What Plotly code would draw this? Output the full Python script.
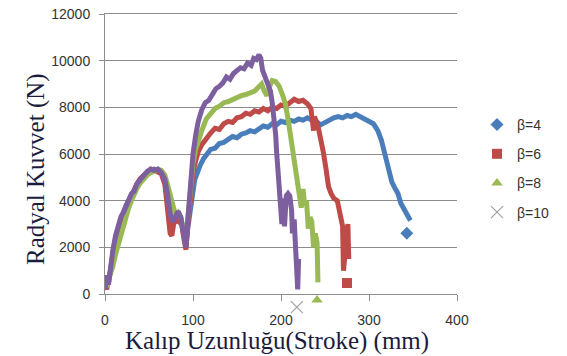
import plotly.graph_objects as go

# ---------------- data ----------------
series_names = ["β=4", "β=6", "β=8", "β=10"]

x_b4 = [0, 2, 4, 6, 9, 12, 15, 18, 21, 24, 27, 30, 33, 36, 40, 44, 48, 52, 56, 60, 64, 68, 71, 74, 77, 80, 83, 86, 89, 92,
        94, 96, 98, 100, 102, 105, 108, 112, 116, 120, 125, 130, 135, 140, 145, 150, 155, 160, 165, 170, 175, 180, 185,
        190, 195, 200, 205, 210, 215, 220, 225, 230, 235, 240, 245, 250, 255, 260, 265, 270, 275, 280, 285, 290, 295,
        300, 305, 310, 314, 318, 322, 326, 330, 333, 336, 340, 344, 347]
y_b4 = [300, 700, 500, 1100, 1700, 2300, 2700, 3200, 3500, 3800, 4000, 4300, 4500, 4650, 4900, 5050, 5200, 5300, 5350, 5300,
        5250, 5000, 4500, 3800, 3200, 3050, 3400, 3300, 2700, 2100,
        2800, 3500, 4000, 4400, 4900, 5250, 5500, 5800, 6000, 6200, 6250, 6450, 6500, 6600, 6750, 6700, 6850, 6900, 7000,
        6950, 7100, 7200, 7150, 7300, 7250, 7400, 7350, 7450, 7400, 7500, 7450, 7550, 7450, 7400, 7250, 7350, 7500, 7550,
        7600, 7550, 7650, 7600, 7700, 7600, 7550, 7450, 7300, 7000, 6600, 6000, 5300, 4800, 4500, 4300, 3900, 3600, 3300,
        3150]

x_b6 = [0, 2, 4, 6, 9, 12, 15, 18, 21, 24, 27, 30, 33, 36, 40, 44, 48, 52, 56, 60, 64, 68, 71, 74, 76, 78, 81, 84, 87, 90,
        92, 94, 96, 98, 100, 103, 106, 110, 115, 120, 125, 130, 135, 140, 145, 150, 155, 160, 165, 170, 175, 180, 185,
        190, 195, 200, 205, 210, 215, 220, 225, 230, 234, 237, 238, 242, 245, 248, 251, 254, 257, 260, 264, 267, 270,
        271, 273, 275, 276, 277]
y_b6 = [400, 200, 700, 900, 1500, 2100, 2500, 2900, 3300, 3700, 4000, 4200, 4500, 4700, 4950, 5100, 5250, 5350, 5300, 5250,
        5150, 4700, 3800, 2600, 2500, 3000, 3200, 3100, 3000, 2300,
        1900, 2900, 3900, 4600, 5200, 5700, 6100, 6400, 6700, 6900, 7100, 7050, 7300, 7400, 7350, 7550, 7600, 7750, 7700,
        7850, 7800, 7950, 7850, 8000, 7950, 8100, 8050, 8200, 8350, 8250, 8300, 8150, 7950, 7000, 7600, 7200, 6700, 6100,
        5400, 4600, 4300, 4100, 4000, 3500, 2900, 1000, 1800, 2500, 3000, 1500]

x_b8 = [0, 2, 4, 6, 9, 12, 15, 18, 21, 24, 27, 30, 33, 36, 40, 44, 48, 52, 56, 60, 64, 68, 71, 74, 77, 80, 83, 86, 89, 92,
        94, 96, 98, 100, 103, 106, 110, 115, 120, 125, 130, 135, 140, 145, 150, 155, 160, 165, 170, 174, 178, 181, 184,
        187, 190, 194, 198, 202, 205, 208, 211, 214, 217, 219, 221, 223, 225, 227, 229, 231, 233, 235, 237, 239, 241,
        242]
y_b8 = [500, 300, 600, 800, 1200, 1700, 2100, 2600, 3000, 3400, 3700, 4000, 4300, 4500, 4750, 4950, 5100, 5200, 5300, 5350,
        5300, 5100, 4700, 4200, 3700, 3400, 3500, 3300, 2800, 2300,
        3200, 4200, 5000, 5600, 6200, 6600, 7000, 7500, 7700, 7950, 8050, 8200, 8250, 8350, 8400, 8500, 8550, 8650, 8700,
        8850, 9000, 8700, 8500, 8900, 9150, 9100, 8900, 8500, 8150, 7500, 6800, 6100, 5300, 4900, 4200, 3700, 4500, 3800,
        4000, 2800, 3300, 3100, 2000, 2600, 2200, 500]

x_b10 = [0, 2, 4, 6, 9, 12, 15, 18, 21, 24, 27, 30, 33, 36, 40, 44, 48, 52, 56, 60, 64, 68, 71, 74, 77, 80, 83, 86, 89, 92,
         94, 96, 98, 100, 103, 106, 110, 114, 118, 122, 126, 130, 134, 138, 142, 146, 150, 154, 158, 162, 166, 169, 172,
         175, 177, 179, 182, 185, 188, 190, 192, 194, 195, 196, 197, 199, 201, 202, 204, 206, 208, 210, 212, 213, 215,
         216, 217, 218, 219, 220]
y_b10 = [200, 800, 400, 1200, 1900, 2500, 2900, 3300, 3500, 3800, 4000, 4300, 4400, 4700, 4900, 5100, 5250, 5350, 5300,
         5350, 5200, 4900, 4300, 3400, 3100, 3300, 3550, 3300, 2700, 2000,
         3100, 4300, 5300, 6000, 6800, 7400, 7900, 8200, 8300, 8600, 8800, 8900, 9050, 9300, 9200, 9450, 9600, 9700,
         9650, 9900, 9800, 10100, 10050, 10250, 10100, 9600, 9300, 9000, 8700, 8200, 7600, 6800, 6100, 5500, 4800, 3800,
         3000, 4100, 2900, 4200, 4300, 4200, 3600, 2600, 3200, 2400, 1800, 1000, 200, 1500]

# isolated end markers (the points shown with the legend symbols)
end_x = [343, 275, 241, 218]
end_y = [2600, 470, -260, -560]

x_ticks = [0, 100, 200, 300, 400]
y_ticks = [0, 2000, 4000, 6000, 8000, 10000, 12000]
y_min, y_max = 0, 12000

# ---------------- geometry ----------------
# the page body has an 8px margin, so the figure is 8px smaller and every
# target pixel position (taken from the 567x356 reference) is shifted by 8
OFF = 8
W, H = 567 - OFF, 356 - OFF
def px(v):
    return v - OFF

M_L, M_R, M_T = px(105), W - px(457), px(14)
PLOT_BOTTOM = px(294)                   # pixel row of y = 0
full_h = H - M_T                        # plot region height (margin b = 0)
plot_w = W - M_L - M_R
main_h = PLOT_BOTTOM - M_T
dom0 = (H - PLOT_BOTTOM) / full_h       # main y axis domain start
y_top = y_max + 1                       # tiny headroom so the 12000 tick is kept
# hidden overlay axis spanning the full region with the same scale, so the
# end markers that sit just under the x axis (as in the reference) stay visible
per_px = (y_top - y_min) / main_h
y2_range = [y_min - (H - PLOT_BOTTOM) * per_px, y_top]

# ---------------- styling ----------------
colors = ["#4A7EBB", "#BE4B48", "#98B954", "#7D5FA0"]
symbols = ["diamond", "square", "triangle-up", "x-thin"]
marker_colors = ["#4A7EBB", "#BE4B48", "#98B954", "#A0A0A0"]

xs = [x_b4, x_b6, x_b8, x_b10]
ys = [y_b4, y_b6, y_b8, y_b10]

fig = go.Figure()
for i, name in enumerate(series_names):
    fig.add_trace(go.Scatter(
        x=xs[i], y=ys[i], mode="lines", name=name, legendgroup=name, showlegend=False,
        line=dict(color=colors[i], width=5, shape="linear"), hoverinfo="skip"))
for i, name in enumerate(series_names):
    fig.add_trace(go.Scatter(
        x=[end_x[i]], y=[end_y[i]], mode="markers", name=name, legendgroup=name,
        xaxis="x", yaxis="y2",
        marker=dict(color=marker_colors[i], symbol=symbols[i],
                    size=12 if i == 3 else 10,
                    line=dict(color=marker_colors[i], width=1.2 if i == 3 else 0))))

grid = "#8C8C8C"
tick_font = dict(family="Liberation Sans, Arial, sans-serif", size=14, color="#333333")
fig.update_layout(
    width=W, height=H,
    margin=dict(l=M_L, r=M_R, t=M_T, b=0, autoexpand=False),
    paper_bgcolor="white", plot_bgcolor="rgba(0,0,0,0)",
    showlegend=True,
    legend=dict(x=(px(477) - M_L) / plot_w, y=(H - px(109)) / full_h, xanchor="left", yanchor="top",
                font=dict(family="Liberation Sans, Arial, sans-serif", size=14, color="#333333"),
                traceorder="grouped", tracegroupgap=8, bgcolor="rgba(0,0,0,0)"),
    # mirror=True draws the top line, standing in for the 12000 gridline
    xaxis=dict(range=[0, 400], tickvals=x_ticks, showgrid=False, zeroline=False, automargin=False,
               showline=True, mirror=True, linecolor=grid, linewidth=1, anchor="y",
               ticks="outside", ticklen=6, tickcolor=grid, tickfont=tick_font,
               ticklabelstandoff=7, ticklabeloverflow="allow"),
    yaxis=dict(range=[y_min, y_top], domain=[dom0, 1], tickvals=y_ticks, tickformat="d",
               showgrid=True, gridcolor=grid, gridwidth=1, automargin=False,
               zeroline=False, showline=True, linecolor=grid, linewidth=1,
               ticks="outside", ticklen=5, tickcolor=grid, tickfont=tick_font,
               ticklabelstandoff=6, ticklabeloverflow="allow"),
    yaxis2=dict(range=y2_range, domain=[0, 1], anchor="free", position=0, visible=False,
                showgrid=False, zeroline=False, automargin=False, fixedrange=True),
    annotations=[
        dict(text="Kalıp Uzunluğu(Stroke) (mm)", xref="paper", yref="paper",
             x=(px(277) - M_L) / plot_w, y=(H - px(341)) / full_h,
             xanchor="center", yanchor="middle", showarrow=False,
             font=dict(family="Liberation Serif, Times New Roman, serif", size=25, color="#1C1C3C")),
        dict(text="Radyal Kuvvet (N)", xref="paper", yref="paper", textangle=-90,
             x=(px(36) - M_L) / plot_w, y=(H - px(169)) / full_h,
             xanchor="center", yanchor="middle", showarrow=False,
             font=dict(family="Liberation Serif, Times New Roman, serif", size=25, color="#1C1C3C")),
    ],
)

fig.write_html("out.html")
